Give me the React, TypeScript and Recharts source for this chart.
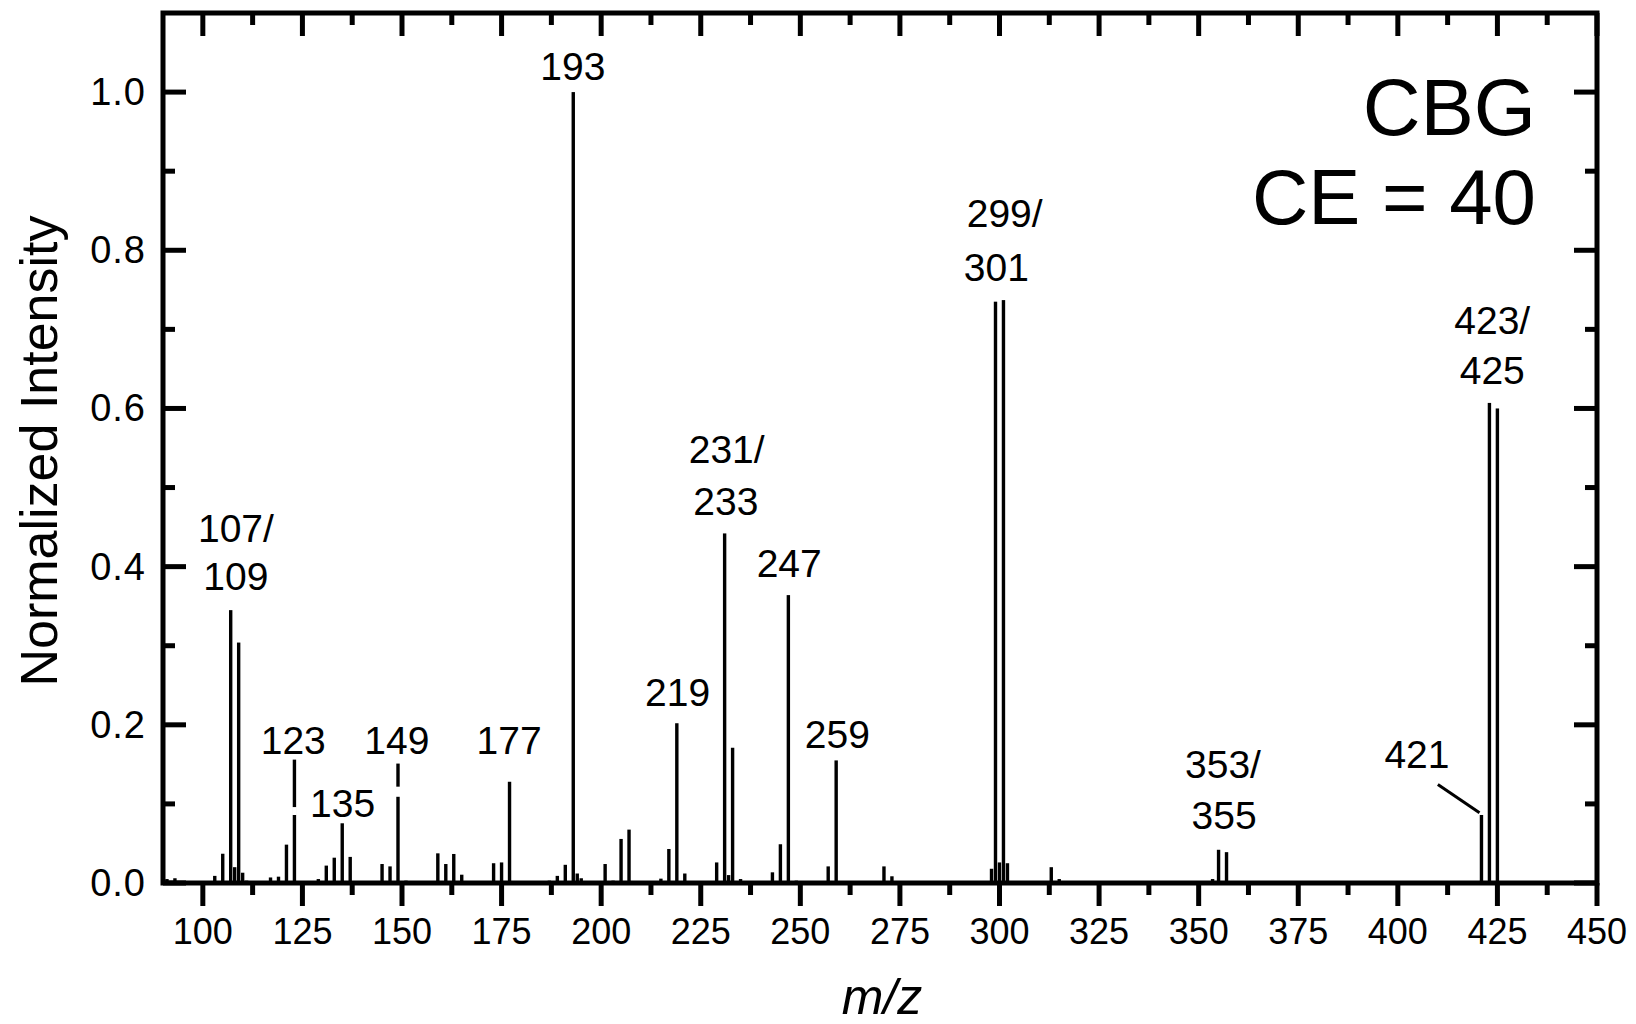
import React from 'react';
import { ComposedChart, Bar, Scatter, XAxis, YAxis, ReferenceArea, ReferenceLine } from 'recharts';

// ---- data ----
const mzValues = [
  91, 93, 103, 105, 107, 108, 109, 110, 111, 117, 119, 121, 123, 129, 131, 133, 135, 137, 141, 145,
  147, 149, 151, 159, 161, 163, 165, 173, 175, 177, 181, 187, 189, 191, 193, 194, 195, 201, 203, 205,
  207, 215, 217, 219, 221, 229, 231, 232, 233, 235, 243, 245, 247, 249, 257, 259, 271, 273, 289, 298,
  299, 300, 301, 302, 313, 315, 337, 353.5, 355, 357, 421, 423, 425,
];
const intensities = [
  0.005, 0.006, 0.009, 0.037, 0.345, 0.02, 0.304, 0.013, 0.003, 0.007, 0.008, 0.0485, 0.156, 0.005, 0.022, 0.032, 0.0755, 0.033, 0.002, 0.024,
  0.021, 0.151, 0.003, 0.0375, 0.024, 0.0367, 0.0105, 0.025, 0.026, 0.128, 0.002, 0.003, 0.009, 0.023, 1.0, 0.012, 0.006, 0.024, 0.003, 0.0557,
  0.0675, 0.0055, 0.043, 0.202, 0.012, 0.026, 0.442, 0.01, 0.171, 0.005, 0.0135, 0.049, 0.364, 0.003, 0.021, 0.155, 0.021, 0.0085, 0.002, 0.018,
  0.735, 0.026, 0.737, 0.025, 0.02, 0.005, 0.002, 0.005, 0.042, 0.039, 0.086, 0.607, 0.6,
];

const xMajorTicks = [100, 125, 150, 175, 200, 225, 250, 275, 300, 325, 350, 375, 400, 425, 450];
const xMinorTicks = [112.5, 137.5, 162.5, 187.5, 212.5, 237.5, 262.5, 287.5, 312.5, 337.5, 362.5, 387.5, 412.5, 437.5];
const yMajorTicks = [0, 0.2, 0.4, 0.6, 0.8, 1.0];
const yMinorTicks = [0.1, 0.3, 0.5, 0.7, 0.9];
const yTickLabels = ['0.0', '0.2', '0.4', '0.6', '0.8', '1.0'];

// peak annotations (data coordinates of each text line's centre)
const labelTexts = ['193', '107/', '109', '123', '135', '149', '177', '219', '231/', '233', '247', '259', '299/', '301', '353/', '355', '421', '423/', '425'];
const labelX = [192.9, 108.3, 108.3, 122.7, 135.1, 148.7, 176.9, 219.2, 231.5, 231.3, 247.2, 259.3, 301.3, 299.2, 356.1, 356.4, 404.8, 423.7, 423.7];
const labelY = [1.032, 0.4476, 0.388, 0.1808, 0.101, 0.1808, 0.1808, 0.2406, 0.5475, 0.4821, 0.4042, 0.188, 0.846, 0.7787, 0.1494, 0.0848, 0.1626, 0.7117, 0.6486];
const leader421 = [{ x: 410.05, y: 0.1244 }, { x: 420.5, y: 0.0888 }];
// white breaks in the 123 and 149 sticks
const gapMz = [123, 149];
const gapLow = [0.086, 0.109];
const gapHigh = [0.096, 0.1218];

const peaks = mzValues.map((m, i) => ({ mz: m, intensity: intensities[i] }));
const labels = labelTexts.map((t, i) => ({ mz: labelX[i], intensity: labelY[i], text: t }));

// ---- layout ----
const W = 1636;
const H = 1024;
const AXIS_X_H = 1;
const AXIS_Y_W = 1;
const M = { top: 13, right: 39, bottom: 141 - AXIS_X_H, left: 163 - AXIS_Y_W };
const PLOT_TOP = 13;
const PLOT_BOTTOM = H - 141;
const PLOT_LEFT = 163;
const PLOT_RIGHT = W - 39;
const FONT = "'Liberation Sans', Arial, Helvetica, sans-serif";
const MAJOR = 23;
const MINOR = 12;
const TICK_W = 5;
const STICK_W = 3.4;

const XTick = (props: any) => {
  const { x, payload } = props;
  const v = payload.value;
  const major = xMajorTicks.includes(v);
  const len = major ? MAJOR : MINOR;
  return (
    <g>
      <line x1={x} x2={x} y1={PLOT_BOTTOM} y2={PLOT_BOTTOM + len} stroke="#000" strokeWidth={TICK_W} />
      <line x1={x} x2={x} y1={PLOT_TOP} y2={PLOT_TOP + len} stroke="#000" strokeWidth={TICK_W} />
      {major && (
        <text x={x} y={PLOT_BOTTOM + 48} textAnchor="middle" dominantBaseline="central" fontFamily={FONT} fontSize={36} fill="#000">
          {String(v)}
        </text>
      )}
    </g>
  );
};

const YTick = (props: any) => {
  const { y, payload } = props;
  const v = payload.value;
  const mi = yMajorTicks.indexOf(v);
  const major = mi >= 0;
  const len = major ? MAJOR : MINOR;
  return (
    <g>
      <line x1={PLOT_LEFT} x2={PLOT_LEFT + len} y1={y} y2={y} stroke="#000" strokeWidth={TICK_W} />
      <line x1={PLOT_RIGHT} x2={PLOT_RIGHT - len} y1={y} y2={y} stroke="#000" strokeWidth={TICK_W} />
      {major && (
        <text x={PLOT_LEFT - 17} y={y} textAnchor="end" dominantBaseline="central" fontFamily={FONT} fontSize={38} letterSpacing={1} fill="#000">
          {yTickLabels[mi]}
        </text>
      )}
    </g>
  );
};

const StickShape = (props: any) => {
  const { x, y, width, height } = props;
  if (height == null || height <= 0) return null;
  const cx = x + width / 2;
  return <rect x={cx - STICK_W / 2} y={y} width={STICK_W} height={height} fill="#000" />;
};

const LabelShape = (props: any) => {
  const { cx, cy, payload } = props;
  return (
    <text x={cx} y={cy} textAnchor="middle" dominantBaseline="central" fontFamily={FONT} fontSize={39} fill="#000">
      {payload.text}
    </text>
  );
};

const allXTicks = [...xMajorTicks, ...xMinorTicks].sort((a, b) => a - b);
const allYTicks = [...yMajorTicks, ...yMinorTicks].sort((a, b) => a - b);

export default function App() {
  return (
    <div style={{ position: 'absolute', left: 0, top: 0, width: W, height: H, background: '#fff' }}>
      <ComposedChart width={W} height={H} margin={M} data={peaks}>
        <XAxis
          dataKey="mz"
          type="number"
          domain={[90, 450]}
          allowDataOverflow
          ticks={allXTicks}
          interval={0}
          height={AXIS_X_H}
          tickSize={0}
          tickMargin={0}
          axisLine={false}
          tickLine={false}
          tick={<XTick />}
        />
        <YAxis
          type="number"
          domain={[0, 1.1]}
          allowDataOverflow
          ticks={allYTicks}
          interval={0}
          width={AXIS_Y_W}
          tickSize={0}
          tickMargin={0}
          axisLine={false}
          tickLine={false}
          tick={<YTick />}
        />
        <ReferenceArea x1={90} x2={450} y1={0} y2={1.1} fill="none" stroke="#000" strokeWidth={5} ifOverflow="visible" />
        <Bar dataKey="intensity" fill="#000" barSize={4} shape={<StickShape />} isAnimationActive={false} />
        {gapMz.map((m, i) => (
          <ReferenceArea key={'gap' + i} x1={m - 0.6} x2={m + 0.6} y1={gapLow[i]} y2={gapHigh[i]} fill="#fff" fillOpacity={1} stroke="none" ifOverflow="visible" zIndex={700} />
        ))}
        <Scatter data={labels} dataKey="intensity" shape={<LabelShape />} isAnimationActive={false} />
        <ReferenceLine segment={leader421} stroke="#000" strokeWidth={3} ifOverflow="visible" />
      </ComposedChart>
      <svg width={W} height={H} style={{ position: 'absolute', left: 0, top: 0, pointerEvents: 'none' }}>
        <text x={1536} y={107} textAnchor="end" dominantBaseline="central" fontFamily={FONT} fontSize={80} fill="#000">CBG</text>
        <text x={1536} y={197} textAnchor="end" dominantBaseline="central" fontFamily={FONT} fontSize={78} fill="#000">CE = 40</text>
        <text transform="translate(57,451) rotate(-90)" textAnchor="middle" fontFamily={FONT} fontSize={52} fill="#000">Normalized Intensity</text>
        <text x={882} y={997} textAnchor="middle" dominantBaseline="central" fontFamily={FONT} fontStyle="italic" fontSize={50} fill="#000">m/z</text>
      </svg>
    </div>
  );
}
